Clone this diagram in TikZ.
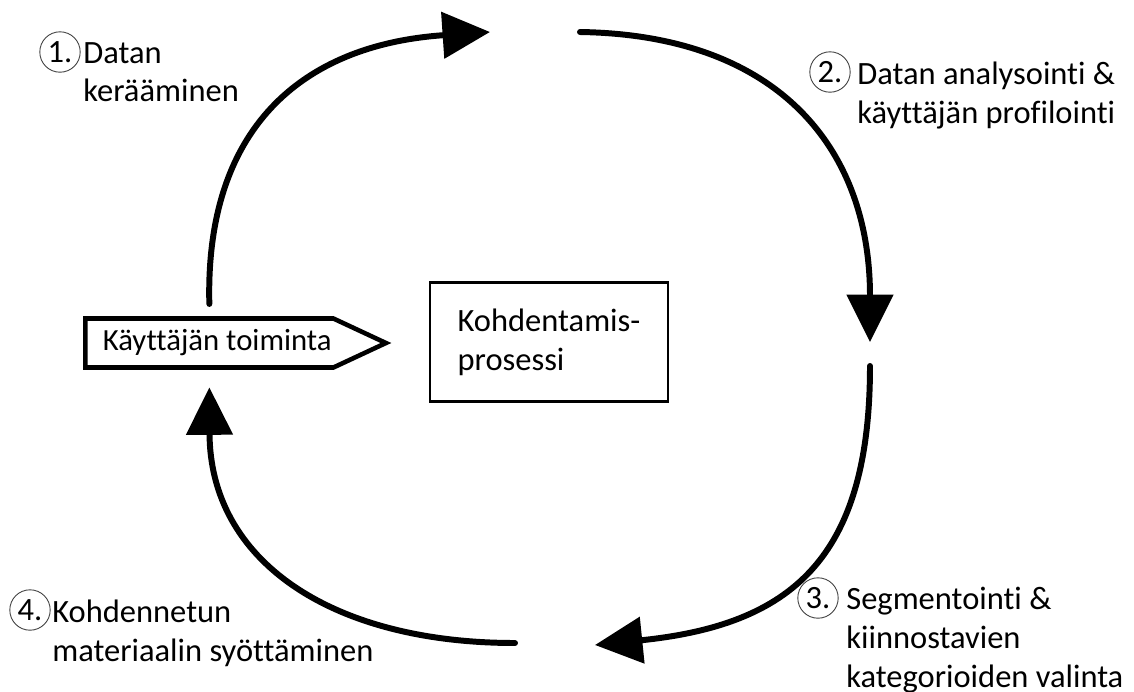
\documentclass[tikz,border=0pt]{standalone}
\usepackage{fontspec}
\setmainfont{Carlito}[Ligatures=NoCommon]
\usetikzlibrary{arrows.meta,shapes.symbols}

\begin{document}
\begin{tikzpicture}[x=0.02cm, y=-0.02cm,
  flow/.style={line width=3.4pt, line cap=round, -{Triangle[length=27pt 0, width=26pt 0]}},
  stepnum/.style={circle, draw=black!75, line width=0.5pt, inner sep=0pt, minimum size=23pt, font=\fontsize{18.5}{22}\selectfont},
  steptext/.style={anchor=north west, align=left, inner sep=0pt, font=\fontsize{18.5}{22}\selectfont}]
  \useasboundingbox (0,0) rectangle (1134,691);

  % Process in the middle and the user action on the left
  \node[draw, line width=1.4pt, minimum width=4.76cm, minimum height=2.38cm, align=left, font=\fontsize{18.5}{22}\selectfont] (process) at (549,342) {Kohdentamis-\\prosessi};
  \node[signal, signal to=east, signal pointer angle=50, draw, line width=2.6pt, anchor=west, inner xsep=1pt, minimum height=0.98cm, font=\fontsize{17.5}{20}\selectfont] (user) at (83,343) {\hspace*{9pt}Käyttäjän toiminta};

  % Free ends of the cycle
  \coordinate (topend) at (490,32);
  \coordinate (topstart) at (580,32);
  \coordinate (rightend) at (870,342);
  \coordinate (rightstart) at (870,366);
  \coordinate (bottomend) at (595,645);
  \coordinate (bottomstart) at (515,643);

  % The four arrows
  \draw[flow] ([yshift=7pt]user.north) .. controls (205,130) and (300,45) .. (topend);
  \draw[flow] (topstart) .. controls (780,35) and (870,150) .. (rightend);
  \draw[flow] (rightstart) .. controls (870,560) and (790,625) .. (bottomend);
  \draw[flow] (bottomstart) .. controls (330,643) and (210,560) .. ([yshift=-10pt]user.south);

  % Numbered steps
  \node[stepnum] (num1) at (60,52) {1.};
  \node[steptext] (step1) at (83,42) {Datan\\kerääminen};
  \node[stepnum] (num2) at (830,72) {2.};
  \node[steptext] (step2) at (857,62) {Datan analysointi \&\\käyttäjän profilointi};
  \node[stepnum] (num3) at (818,598) {3.};
  \node[steptext] (step3) at (846,587) {Segmentointi \&\\kiinnostavien\\kategorioiden valinta};
  \node[stepnum] (num4) at (30,610) {4.};
  \node[steptext] (step4) at (52,600) {Kohdennetun\\materiaalin syöttäminen};
\end{tikzpicture}
\end{document}
